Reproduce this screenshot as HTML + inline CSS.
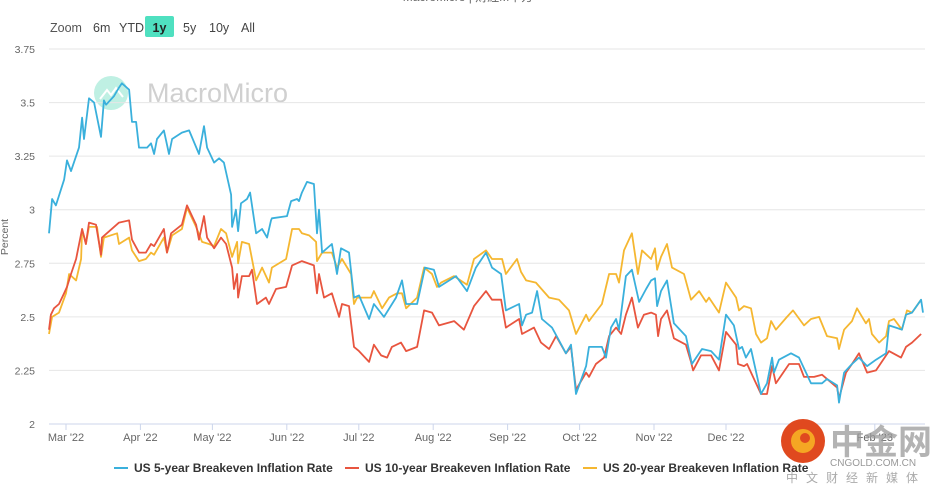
<!DOCTYPE html>
<html><head><meta charset="utf-8"><style>
body{margin:0;background:#fff;width:936px;height:493px;overflow:hidden;font-family:"Liberation Sans","Noto Sans CJK TC",sans-serif}
svg text{font-family:"Liberation Sans","Noto Sans CJK SC",sans-serif}
</style></head><body>
<svg id="chart" width="936" height="493" viewBox="0 0 936 493" xmlns="http://www.w3.org/2000/svg">
<text x="468" y="1" font-size="12" fill="#666" text-anchor="middle">MacroMicro | 財經M平方</text>
<g font-size="12.5" fill="#444">
<text x="50" y="32" fill="#555">Zoom</text>
<text x="93" y="32">6m</text>
<text x="119" y="32">YTD</text>
<rect x="145" y="16" width="29" height="21" rx="2" fill="#4fe0c0"/>
<text x="159.5" y="32" text-anchor="middle" font-weight="bold" fill="#222">1y</text>
<text x="183" y="32">5y</text>
<text x="209" y="32">10y</text>
<text x="241" y="32">All</text>
</g>
<g>
<circle cx="111" cy="93" r="17" fill="#bff0e3"/>
<path d="M100 99 L107 90 L111 95 L116 88 L123 97" stroke="#fff" stroke-width="2" fill="none"/>
<text x="147" y="102" font-size="27" fill="#d0d0d0">MacroMicro</text>
</g>
<g id="grid"></g>
<g id="yticks" font-size="10.5" fill="#666" text-anchor="end"></g>
<text transform="translate(8,237) rotate(-90)" font-size="10.5" fill="#666" text-anchor="middle">Percent</text>
<g id="xticks" font-size="11" fill="#666" text-anchor="middle"></g>
<g id="series"></g>
<g font-size="12" font-weight="bold" fill="#333">
<g><line x1="114" y1="468" x2="128" y2="468" stroke="#3ab0dc" stroke-width="2"/><text x="134" y="472">US 5-year Breakeven Inflation Rate</text></g>
<g><line x1="345" y1="468" x2="359" y2="468" stroke="#e8553f" stroke-width="2"/><text x="365" y="472">US 10-year Breakeven Inflation Rate</text></g>
<g><line x1="583" y1="468" x2="597" y2="468" stroke="#f5b731" stroke-width="2"/><text x="603" y="472">US 20-year Breakeven Inflation Rate</text></g>
</g>
<g>
<circle cx="803" cy="441" r="22" fill="#e0491f"/>
<circle cx="803" cy="441" r="12" fill="#f5a623"/>
<circle cx="805" cy="438" r="5" fill="#e0491f"/>
<text x="830" y="454" font-size="34" font-weight="bold" fill="#9a9a9a" opacity="0.75">中金网</text>
<text x="830" y="466" font-size="10" fill="#999">CNGOLD.COM.CN</text>
<text x="786" y="482" font-size="12" fill="#aaa" letter-spacing="8">中文财经新媒体</text>
</g>
</svg>
<script>
const yTicks=[2,2.25,2.5,2.75,3,3.25,3.5,3.75];
const yTickLabels=["2","2.25","2.5","2.75","3","3.25","3.5","3.75"];
const xTickDays=[0,31,61,92,122,153,184,214,245,275,306,337];
const xTickLabels=["Mar '22","Apr '22","May '22","Jun '22","Jul '22","Aug '22","Sep '22","Oct '22","Nov '22","Dec '22","Jan '23","Feb '23"];
const days5=[-7.1,-5.8,-4.2,-0.8,0.4,2.1,5.4,6.7,7.5,9.6,11.7,14.6,15.8,16.7,20,22.1,23.3,26.3,27.5,29.2,30.4,33.8,35.4,36.7,37.9,40.8,42.9,44.2,48.3,51.3,55.4,57.5,58.8,61.7,63.8,65.8,68.8,69.2,70.8,71.7,72.9,75.4,76.7,79.2,81.7,83.8,85.4,85.8,92.1,93.8,96.3,97.1,98.3,100.4,103.3,104.6,105.4,106.7,110.8,112.9,114.6,117.9,120,122.1,126.3,128.3,132.5,137.5,140,141.7,146.3,149.6,153.3,155.4,162.5,167.1,170.8,175,177.5,181.3,183.3,188.8,190,191.7,194.2,196.3,198.3,202.5,205.4,208.3,210.4,212.5,216.7,217.9,223.3,225,227.1,229.2,230.4,233.3,235.8,238.8,241.7,243.8,245.4,246.3,247.9,250.4,253.3,258.3,260.8,265,268.8,272.1,275,278.3,280.4,281.7,283.3,285.4,289.6,292.1,294.2,295,297.1,302.1,305.4,310.4,315,317.1,321.3,322.1,324.2,327.5,330.4,333.8,337.5,341.7,342.9,345.8,348.3,350,352.5,356.3,357.1];
const vals5=[2.89,3.05,3.02,3.14,3.23,3.18,3.29,3.43,3.33,3.52,3.50,3.34,3.51,3.49,3.53,3.57,3.59,3.56,3.41,3.41,3.29,3.29,3.31,3.26,3.33,3.37,3.26,3.33,3.36,3.37,3.26,3.39,3.29,3.22,3.24,3.22,3.07,2.92,3.00,2.90,3.03,3.05,3.08,2.89,2.91,2.87,2.95,2.96,2.97,3.04,3.05,3.04,3.08,3.13,3.12,2.89,3.00,2.80,2.84,2.70,2.82,2.80,2.59,2.60,2.49,2.56,2.50,2.59,2.67,2.56,2.56,2.73,2.72,2.64,2.69,2.62,2.73,2.80,2.73,2.70,2.53,2.56,2.46,2.51,2.52,2.62,2.49,2.45,2.39,2.33,2.37,2.14,2.27,2.36,2.36,2.31,2.45,2.49,2.44,2.69,2.72,2.57,2.63,2.67,2.68,2.55,2.62,2.67,2.47,2.41,2.28,2.35,2.34,2.30,2.51,2.46,2.35,2.36,2.31,2.35,2.14,2.19,2.31,2.24,2.30,2.33,2.31,2.19,2.19,2.21,2.18,2.10,2.24,2.28,2.31,2.27,2.30,2.33,2.46,2.45,2.44,2.51,2.52,2.58,2.52];
const days10=[-7.1,-6.3,-5,-2.9,-0.8,0.4,2.1,4.2,6.7,8.3,9.6,12.5,14.6,15,22.1,26.3,27.5,30.4,33.3,35.4,36.7,40.8,42.1,43.8,48.3,50.4,54.2,55.4,57.5,58.8,61.7,64.6,66.7,69.2,70,71.3,71.7,73.3,76.3,77.5,79.6,83.3,84.6,87.5,91.7,94.2,98.3,103.3,104.6,105.4,107.5,110.8,113.8,115,117.9,120,122.1,126.3,128.3,131.3,133.8,135.8,139.6,141.7,146.3,149.2,152.5,155.4,161.7,165.8,170,175,177.5,181.3,183.3,188.8,190,195,197.9,201.3,204.2,208.3,210.4,212.5,216.7,217.9,220.8,224.2,226.3,229.2,231.3,233.3,235.8,238.3,240.8,243.8,245.8,246.7,247.9,250.4,253.3,258.3,260.4,261.3,264.6,268.8,272.1,275,279.2,280,282.5,283.8,287.5,289.6,292.1,294.2,295.8,301.3,305.4,307.5,311.7,315,321.3,322.1,325,327.5,330.4,333.8,337.5,341.7,342.9,347.9,350,352.5,356.3];
const vals10=[2.44,2.51,2.54,2.56,2.61,2.64,2.70,2.77,2.91,2.84,2.94,2.93,2.79,2.87,2.94,2.95,2.86,2.80,2.80,2.84,2.83,2.91,2.80,2.89,2.93,3.02,2.93,2.86,2.97,2.87,2.82,2.87,2.84,2.73,2.63,2.70,2.59,2.69,2.69,2.72,2.56,2.59,2.56,2.63,2.64,2.74,2.76,2.74,2.61,2.70,2.59,2.61,2.50,2.56,2.55,2.36,2.34,2.29,2.37,2.32,2.31,2.36,2.38,2.34,2.36,2.53,2.52,2.46,2.48,2.44,2.55,2.62,2.58,2.58,2.45,2.49,2.42,2.45,2.38,2.35,2.41,2.33,2.36,2.16,2.24,2.22,2.28,2.31,2.41,2.45,2.42,2.51,2.59,2.45,2.51,2.52,2.51,2.41,2.49,2.53,2.40,2.37,2.29,2.25,2.32,2.32,2.25,2.43,2.37,2.28,2.27,2.28,2.19,2.14,2.14,2.27,2.19,2.28,2.28,2.22,2.22,2.23,2.17,2.12,2.24,2.28,2.33,2.24,2.25,2.32,2.34,2.31,2.36,2.38,2.42];
const days20=[-7.1,-5.8,-2.9,0,1.3,4.2,6.3,6.7,8.3,9.6,12.9,14.6,15.8,21.3,22.1,26.3,27.5,30.4,33.3,35.4,36.7,40.8,42.1,44.2,48.3,50.4,54.2,56.7,59.6,61.7,64.6,66.7,69.2,71.3,71.7,73.3,76.3,79.2,81.7,84.6,85.8,91.7,94.2,97.1,98.3,101.3,104.2,104.6,106.7,110.8,112.9,115,118.8,120,121.3,127.1,128.3,131.7,134.6,137.9,140,141.7,146.3,149.2,152.5,154.6,156.3,161.7,167.1,170,175,177.5,181.7,183.3,187.9,189.6,191.7,195.8,201.3,205.4,209.6,212.5,216.7,217.9,219.2,223.3,226.3,229.2,230.4,232.5,235.8,238.3,240,243.8,245.4,246.3,247.9,250.4,252.5,257.5,260.4,263.8,266.7,267.9,272.1,275,279.2,280.4,282.5,285.4,287.5,289.6,292.1,293.8,295.8,300.4,302.9,307.5,310.4,313.8,317.1,321.3,322.1,324.2,327.5,329.6,333.3,334.6,335.8,338.8,341.7,342.9,345,348.3,350.4,352.5,356.3];
const vals20=[2.42,2.50,2.52,2.61,2.70,2.67,2.77,2.91,2.84,2.92,2.92,2.78,2.87,2.89,2.84,2.87,2.81,2.76,2.77,2.80,2.79,2.87,2.80,2.88,2.91,3.01,2.92,2.85,2.84,2.83,2.91,2.89,2.78,2.85,2.75,2.85,2.84,2.67,2.73,2.66,2.73,2.77,2.91,2.91,2.89,2.88,2.85,2.76,2.80,2.80,2.73,2.77,2.70,2.56,2.59,2.59,2.62,2.54,2.59,2.61,2.61,2.54,2.59,2.73,2.70,2.64,2.66,2.69,2.65,2.77,2.81,2.77,2.77,2.70,2.77,2.71,2.67,2.66,2.59,2.58,2.53,2.42,2.51,2.48,2.50,2.56,2.70,2.70,2.66,2.81,2.89,2.70,2.81,2.77,2.82,2.72,2.78,2.84,2.73,2.70,2.58,2.62,2.57,2.59,2.52,2.66,2.59,2.53,2.55,2.54,2.42,2.38,2.40,2.48,2.44,2.50,2.53,2.46,2.49,2.50,2.41,2.40,2.35,2.44,2.48,2.54,2.47,2.49,2.42,2.38,2.41,2.48,2.49,2.44,2.53,2.52,2.58];
const NS='http://www.w3.org/2000/svg';
const X0=49,X1=925,Y0=424,Ytop=49;
function xs(d){return 66+d*2.4;}
function ys(v){return Y0-(v-2)/(3.75-2)*(Y0-Ytop);}
const grid=document.getElementById('grid'),yt=document.getElementById('yticks'),xt=document.getElementById('xticks'),ser=document.getElementById('series');
yTicks.forEach((v,i)=>{
 const l=document.createElementNS(NS,'line');
 l.setAttribute('x1',X0);l.setAttribute('x2',X1);l.setAttribute('y1',ys(v));l.setAttribute('y2',ys(v));
 l.setAttribute('stroke',i===0?'#ccd6eb':'#e6e6e6');l.setAttribute('stroke-width','1');
 
 
 grid.appendChild(l);
 const t=document.createElementNS(NS,'text');
 t.setAttribute('x',35);t.setAttribute('y',ys(v)+4);t.textContent=yTickLabels[i];
 
 
 yt.appendChild(t);
});
xTickDays.forEach((d,i)=>{
 const x=xs(d);
 const l=document.createElementNS(NS,'line');
 l.setAttribute('x1',x);l.setAttribute('x2',x);l.setAttribute('y1',Y0);l.setAttribute('y2',Y0+6);l.setAttribute('stroke','#ccd6eb');
 
 
 xt.appendChild(l);
 const t=document.createElementNS(NS,'text');
 t.setAttribute('x',x);t.setAttribute('y',441);t.textContent=xTickLabels[i];
 
 
 xt.appendChild(t);
});
function line(days,vals,color,name){
 const p=document.createElementNS(NS,'path');
 p.setAttribute('d',days.map((d,i)=>(i?'L':'M')+xs(d).toFixed(1)+' '+ys(vals[i]).toFixed(1)).join(''));
 p.setAttribute('fill','none');p.setAttribute('stroke',color);p.setAttribute('stroke-width','1.8');p.setAttribute('stroke-linejoin','round');
 
 
 ser.appendChild(p);
}
line(days20,vals20,'#f5b731','series-20y-line');
line(days10,vals10,'#e8553f','series-10y-line');
line(days5,vals5,'#3ab0dc','series-5y-line');
</script>
</body></html>
